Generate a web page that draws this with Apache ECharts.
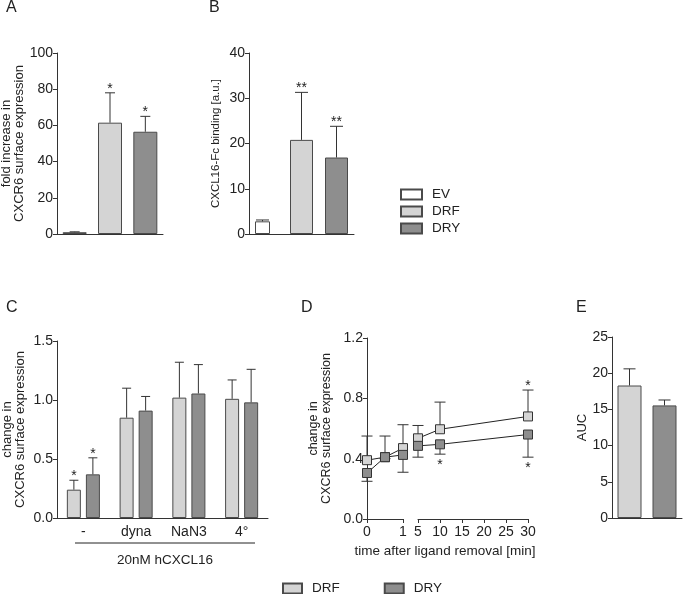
<!DOCTYPE html>
<html>
<head>
<meta charset="utf-8">
<script src="https://cdn.jsdelivr.net/npm/echarts@6/dist/echarts.min.js"></script>
<style>
  html, body { margin: 0; padding: 0; background: #fff; }
  #chart { width: 683px; height: 594px; }
</style>
</head>
<body>
<div id="chart"></div>
<script>
// panel A / B: EV, DRF, DRY
const groupsAB = ['EV', 'DRF', 'DRY'];
const aMean = [1, 61.5, 56.5];
const aErr = [1.2, 78, 65];
const aStars = ['', '*', '*'];
const bMean = [2.8, 20.8, 16.9];
const bErr = [3.1, 31.3, 23.8];
const bStars = ['', '**', '**'];

// panel C
const cGroups = ['-', 'dyna', 'NaN3', '4°'];
const cDrf = [0.24, 0.85, 1.02, 1.01];
const cDrfErr = [0.32, 1.10, 1.32, 1.17];
const cDry = [0.37, 0.91, 1.055, 0.98];
const cDryErr = [0.51, 1.03, 1.30, 1.26];
const cStars = ['*', '', '', ''];

// panel D (time in min)
const dTimes = [0, 0.5, 1, 5, 10, 30];
const dDrf = [0.39, 0.41, 0.47, 0.535, 0.595, 0.68];
const dDrfHi = [0.55, 0.55, 0.625, 0.62, 0.775, 0.855];
const dDry = [0.305, 0.41, 0.425, 0.485, 0.495, 0.56];
const dDryLo = [0.25, 0.40, 0.31, 0.41, 0.43, 0.41];
const dDrfStars = ['', '', '', '', '', '*'];
const dDryStars = ['', '', '', '', '*', '*'];

// panel E
const eGroups = ['DRF', 'DRY'];
const eMean = [18.3, 15.55];
const eErr = [20.6, 16.3];

const FONT = '"Liberation Sans", Arial, sans-serif';
const colors = {EV: '#ffffff', DRF: '#d4d4d4', DRY: '#8e8e8e'};
const edge = '#4a4a4a';

const chart = echarts.init(document.getElementById('chart'));

function xCat(gridIndex, data, showLabel) {
    return {
        type: 'category', gridIndex: gridIndex, data: data,
        axisLine: {lineStyle: {color: '#333'}},
        axisTick: {show: false},
        axisLabel: {show: showLabel, fontSize: 14, color: '#222', margin: 7},
    };
}

function yVal(gridIndex, max, interval, name, nameGap, dec, nameSize) {
    return {
        type: 'value', gridIndex: gridIndex, min: 0, max: max, interval: interval,
        name: name, nameLocation: 'middle', nameGap: nameGap,
        nameTextStyle: {fontSize: nameSize || 13, lineHeight: 13, color: '#222'},
        axisLine: {show: true, lineStyle: {color: '#333'}},
        axisTick: {show: true, length: 4, lineStyle: {color: '#333'}},
        splitLine: {show: false},
        axisLabel: {
            fontSize: 14, color: '#222', margin: 4,
            formatter: dec ? function (v) { return v.toFixed(dec); } : '{value}',
        },
    };
}

function oneBar(name, xi, idx, values, width) {
    const data = values.map(function (v, i) { return i === idx ? v : '-'; });
    return {
        type: 'bar', name: name, xAxisIndex: xi, yAxisIndex: xi, data: data,
        barWidth: width, barGap: '-100%',
        itemStyle: {color: colors[name], borderColor: edge, borderWidth: 1},
    };
}

function errBars(xi, yi, xs, from, to, stars, cap, offset, z) {
    const data = xs.map(function (x, i) { return [x, from[i], to[i]]; });
    return {
        type: 'custom', xAxisIndex: xi, yAxisIndex: yi, z: z || 3, silent: true, clip: false,
        encode: {x: 0, y: [1, 2]},
        data: data,
        renderItem: function (params, api) {
            const i = params.dataIndex;
            const d = data[i];
            const dx = offset ? offset(i) : 0;
            const a = api.coord([d[0], d[1]]);
            const b = api.coord([d[0], d[2]]);
            const x = a[0] + dx;
            const up = b[1] < a[1];
            const st = {stroke: '#333', lineWidth: 1};
            const children = [
                {type: 'line', shape: {x1: x, y1: a[1], x2: x, y2: b[1]}, style: st},
                {type: 'line', shape: {x1: x - cap / 2, y1: b[1], x2: x + cap / 2, y2: b[1]}, style: st},
            ];
            if (stars && stars[i]) {
                children.push({
                    type: 'text', x: x, y: up ? b[1] - 4 : b[1] + 11,
                    style: {text: stars[i], fontSize: 14, fontFamily: FONT, fill: '#222',
                        align: 'center', verticalAlign: 'middle'},
                });
            }
            return {type: 'group', children: children};
        },
    };
}

// split D into the two axis segments
const d1 = [], d2 = [];
dTimes.forEach(function (t, i) { (t <= 1 ? d1 : d2).push(i); });
function pick(idx, arr) { return idx.map(function (i) { return arr[i]; }); }
function pts(idx, arr) { return idx.map(function (i) { return [dTimes[i], arr[i]]; }); }

function lineSeries(name, xi, idx, arr) {
    return {
        type: 'line', name: name, xAxisIndex: xi, yAxisIndex: xi, data: pts(idx, arr),
        symbol: 'rect', symbolSize: 9, z: 4, clip: false,
        lineStyle: {color: '#222', width: 1},
        itemStyle: {color: colors[name], borderColor: '#333', borderWidth: 1},
    };
}

const grids = [
    {left: 57, top: 53, width: 106, height: 181},   // A
    {left: 249, top: 53, width: 105, height: 181},  // B
    {left: 57, top: 341, width: 211, height: 177},  // C
    {left: 367, top: 338, width: 36, height: 181},  // D first part
    {left: 418, top: 338, width: 110, height: 181}, // D second part
    {left: 612, top: 337, width: 70, height: 181},  // E
].map(function (g) { g.outerBoundsMode = 'none'; g.containLabel = false; return g; });

const dxAxis = function (gi, min, max, interval) {
    return {
        type: 'value', gridIndex: gi, min: min, max: max, interval: interval,
        axisLine: {show: true, lineStyle: {color: '#333'}},
        axisTick: {show: true, length: 4, lineStyle: {color: '#333'}},
        splitLine: {show: false},
        axisLabel: {fontSize: 14, color: '#222', margin: 6},
    };
};

const dY2 = yVal(4, 1.2, 0.4, '', 0, 1);
dY2.show = false;

const letter = function (t, l, tp) {
    return {text: t, left: l, top: tp, padding: 0,
        textStyle: {fontSize: 16, fontWeight: 'normal', color: '#222', fontFamily: FONT}};
};

const option = {
    animation: false,
    textStyle: {fontFamily: FONT},
    title: [
        letter('A', 6, 0), letter('B', 209, 0), letter('C', 6, 300),
        letter('D', 301, 300), letter('E', 576, 300),
    ],
    legend: [
        {
            data: groupsAB, orient: 'vertical', left: 400, top: 187, itemGap: 2, padding: 0,
            itemWidth: 21, itemHeight: 10, icon: 'rect',
            textStyle: {fontSize: 13.5, color: '#222', padding: [0, 0, 0, 5], lineHeight: 15},
        },
        {
            data: ['DRF', 'DRY'], orient: 'horizontal', left: 282, top: 581, itemGap: 44, padding: 0,
            itemWidth: 19, itemHeight: 10, icon: 'rect',
            textStyle: {fontSize: 13.5, color: '#222', padding: [0, 0, 0, 5], lineHeight: 15},
        },
    ],
    grid: grids,
    xAxis: [
        xCat(0, groupsAB, false),
        xCat(1, groupsAB, false),
        xCat(2, cGroups, true),
        dxAxis(3, 0, 1, 1),
        dxAxis(4, 5, 30, 5),
        xCat(5, eGroups, false),
    ],
    yAxis: [
        yVal(0, 100, 20, 'fold increase in\nCXCR6 surface expression', 30, 0, 13),
        yVal(1, 40, 10, 'CXCL16-Fc binding [a.u.]', 27, 0, 11.5),
        yVal(2, 1.5, 0.5, 'change in\nCXCR6 surface expression', 30, 1, 13),
        yVal(3, 1.2, 0.4, 'change in\nCXCR6 surface expression', 34, 1, 12.5),
        dY2,
        yVal(5, 25, 5, 'AUC', 22, 0, 13),
    ],
    graphic: [
        {type: 'line', shape: {x1: 75, y1: 543, x2: 255, y2: 543}, style: {stroke: '#222', lineWidth: 1}},
        {type: 'text', x: 165, y: 560, style: {text: '20nM hCXCL16', fontSize: 13.5, fontFamily: FONT,
            fill: '#222', align: 'center', verticalAlign: 'middle'}},
        {type: 'text', x: 445, y: 551, style: {text: 'time after ligand removal [min]', fontSize: 13.5,
            fontFamily: FONT, fill: '#222', align: 'center', verticalAlign: 'middle'}},
    ],
    series: [
        // A
        oneBar('EV', 0, 0, aMean, 24),
        oneBar('DRF', 0, 1, aMean, 24),
        oneBar('DRY', 0, 2, aMean, 24),
        errBars(0, 0, [0, 1, 2], aMean, aErr, aStars, 10),
        // B
        oneBar('EV', 1, 0, bMean, 15),
        oneBar('DRF', 1, 1, bMean, 23),
        oneBar('DRY', 1, 2, bMean, 23),
        errBars(1, 1, [0, 1, 2], bMean, bErr, bStars, 13, function (i) { return i === 0 ? -4 : 0; }),
        // C
        {
            type: 'bar', name: 'DRF', xAxisIndex: 2, yAxisIndex: 2, data: cDrf, barWidth: 14, barGap: '36%',
            itemStyle: {color: colors.DRF, borderColor: edge, borderWidth: 1},
        },
        {
            type: 'bar', name: 'DRY', xAxisIndex: 2, yAxisIndex: 2, data: cDry, barWidth: 14, barGap: '36%',
            itemStyle: {color: colors.DRY, borderColor: edge, borderWidth: 1},
        },
        errBars(2, 2, [0, 1, 2, 3], cDrf, cDrfErr, cStars, 9, function () { return -9.5; }),
        errBars(2, 2, [0, 1, 2, 3], cDry, cDryErr, cStars, 9, function () { return 9.5; }),
        // D
        errBars(3, 3, pick(d1, dTimes), pick(d1, dDrf), pick(d1, dDrfHi), pick(d1, dDrfStars), 11, null, 1),
        errBars(3, 3, pick(d1, dTimes), pick(d1, dDry), pick(d1, dDryLo), pick(d1, dDryStars), 11, null, 1),
        errBars(4, 4, pick(d2, dTimes), pick(d2, dDrf), pick(d2, dDrfHi), pick(d2, dDrfStars), 11, null, 1),
        errBars(4, 4, pick(d2, dTimes), pick(d2, dDry), pick(d2, dDryLo), pick(d2, dDryStars), 11, null, 1),
        lineSeries('DRF', 3, d1, dDrf),
        lineSeries('DRY', 3, d1, dDry),
        lineSeries('DRF', 4, d2, dDrf),
        lineSeries('DRY', 4, d2, dDry),
        // E
        {
            type: 'bar', name: 'DRF', xAxisIndex: 5, yAxisIndex: 5, barWidth: 24,
            data: eMean.map(function (v, i) {
                return {value: v, itemStyle: {color: colors[eGroups[i]], borderColor: edge, borderWidth: 1}};
            }),
        },
        errBars(5, 5, [0, 1], eMean, eErr, null, 12),
    ],
};

chart.setOption(option);
</script>
</body>
</html>
